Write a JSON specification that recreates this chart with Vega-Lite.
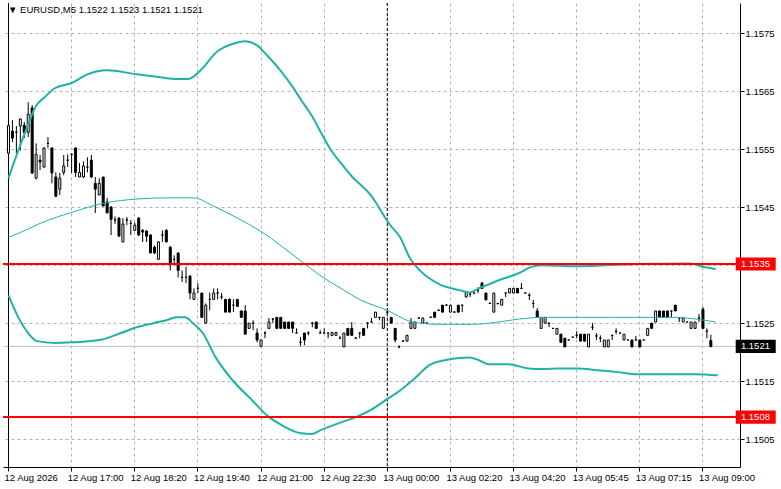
{
  "$schema": "https://vega.github.io/schema/vega-lite/v6.json",
  "width": 737,
  "height": 464,
  "autosize": {"type": "none"},
  "padding": {"left": 3, "top": 3, "right": 41, "bottom": 22},
  "background": "white",
  "config": {"view": {"stroke": null}, "font": "Liberation Sans"},
  "title": {"text": "▼ EURUSD,M5   1.1522 1.1523 1.1521 1.1521", "anchor": "start", "frame": "group", "orient": "top", "offset": -12, "baseline": "top", "dx": 5, "font": "Liberation Sans", "fontSize": 9.5, "fontWeight": "normal", "color": "black"},
  "datasets": {
    "candles": [
      {"i":0,"o":1.15543,"h":1.15603,"l":1.15519,"c":1.15591},
      {"i":1,"o":1.15581,"h":1.15600,"l":1.15562,"c":1.15569},
      {"i":2,"o":1.15579,"h":1.15590,"l":1.15543,"c":1.15579},
      {"i":3,"o":1.15590,"h":1.15603,"l":1.15548,"c":1.15602},
      {"i":4,"o":1.15591,"h":1.15597,"l":1.15569,"c":1.15579},
      {"i":5,"o":1.15579,"h":1.15631,"l":1.15571,"c":1.15610},
      {"i":6,"o":1.15621,"h":1.15626,"l":1.15507,"c":1.15509},
      {"i":7,"o":1.15500,"h":1.15560,"l":1.15498,"c":1.15541},
      {"i":8,"o":1.15531,"h":1.15540,"l":1.15514,"c":1.15528},
      {"i":9,"o":1.15519,"h":1.15553,"l":1.15519,"c":1.15552},
      {"i":10,"o":1.15560,"h":1.15571,"l":1.15552,"c":1.15560},
      {"i":11,"o":1.15552,"h":1.15553,"l":1.15491,"c":1.15509},
      {"i":12,"o":1.15502,"h":1.15510,"l":1.15467,"c":1.15469},
      {"i":13,"o":1.15481,"h":1.15509,"l":1.15471,"c":1.15500},
      {"i":14,"o":1.15510,"h":1.15540,"l":1.15505,"c":1.15521},
      {"i":15,"o":1.15531,"h":1.15541,"l":1.15519,"c":1.15531},
      {"i":16,"o":1.15541,"h":1.15543,"l":1.15509,"c":1.15541},
      {"i":17,"o":1.15552,"h":1.15553,"l":1.15502,"c":1.15510},
      {"i":18,"o":1.15502,"h":1.15526,"l":1.15502,"c":1.15510},
      {"i":19,"o":1.15502,"h":1.15529,"l":1.15500,"c":1.15521},
      {"i":20,"o":1.15519,"h":1.15536,"l":1.15510,"c":1.15519},
      {"i":21,"o":1.15531,"h":1.15540,"l":1.15500,"c":1.15502},
      {"i":22,"o":1.15491,"h":1.15502,"l":1.15440,"c":1.15481},
      {"i":23,"o":1.15471,"h":1.15500,"l":1.15471,"c":1.15491},
      {"i":24,"o":1.15502,"h":1.15502,"l":1.15452,"c":1.15452},
      {"i":25,"o":1.15459,"h":1.15466,"l":1.15440,"c":1.15440},
      {"i":26,"o":1.15450,"h":1.15452,"l":1.15402,"c":1.15429},
      {"i":27,"o":1.15428,"h":1.15434,"l":1.15421,"c":1.15428},
      {"i":28,"o":1.15431,"h":1.15433,"l":1.15400,"c":1.15400},
      {"i":29,"o":1.15390,"h":1.15431,"l":1.15390,"c":1.15421},
      {"i":30,"o":1.15428,"h":1.15433,"l":1.15419,"c":1.15428},
      {"i":31,"o":1.15422,"h":1.15428,"l":1.15402,"c":1.15422},
      {"i":32,"o":1.15410,"h":1.15424,"l":1.15410,"c":1.15419},
      {"i":33,"o":1.15431,"h":1.15433,"l":1.15400,"c":1.15402},
      {"i":34,"o":1.15410,"h":1.15412,"l":1.15390,"c":1.15407},
      {"i":35,"o":1.15409,"h":1.15410,"l":1.15390,"c":1.15400},
      {"i":36,"o":1.15402,"h":1.15403,"l":1.15371,"c":1.15371},
      {"i":37,"o":1.15381,"h":1.15384,"l":1.15369,"c":1.15371},
      {"i":38,"o":1.15360,"h":1.15391,"l":1.15360,"c":1.15390},
      {"i":39,"o":1.15402,"h":1.15410,"l":1.15390,"c":1.15402},
      {"i":40,"o":1.15410,"h":1.15412,"l":1.15390,"c":1.15390},
      {"i":41,"o":1.15381,"h":1.15383,"l":1.15341,"c":1.15353},
      {"i":42,"o":1.15360,"h":1.15367,"l":1.15350,"c":1.15360},
      {"i":43,"o":1.15371,"h":1.15372,"l":1.15329,"c":1.15341},
      {"i":44,"o":1.15329,"h":1.15341,"l":1.15321,"c":1.15329},
      {"i":45,"o":1.15329,"h":1.15347,"l":1.15319,"c":1.15329},
      {"i":46,"o":1.15331,"h":1.15333,"l":1.15291,"c":1.15302},
      {"i":47,"o":1.15291,"h":1.15310,"l":1.15291,"c":1.15302},
      {"i":48,"o":1.15310,"h":1.15319,"l":1.15302,"c":1.15310},
      {"i":49,"o":1.15302,"h":1.15302,"l":1.15260,"c":1.15260},
      {"i":50,"o":1.15250,"h":1.15284,"l":1.15250,"c":1.15281},
      {"i":51,"o":1.15291,"h":1.15303,"l":1.15272,"c":1.15291},
      {"i":52,"o":1.15291,"h":1.15310,"l":1.15291,"c":1.15302},
      {"i":53,"o":1.15302,"h":1.15310,"l":1.15291,"c":1.15302},
      {"i":54,"o":1.15295,"h":1.15302,"l":1.15291,"c":1.15295},
      {"i":55,"o":1.15291,"h":1.15291,"l":1.15269,"c":1.15269},
      {"i":56,"o":1.15291,"h":1.15293,"l":1.15269,"c":1.15269},
      {"i":57,"o":1.15281,"h":1.15291,"l":1.15269,"c":1.15281},
      {"i":58,"o":1.15291,"h":1.15291,"l":1.15279,"c":1.15279},
      {"i":59,"o":1.15271,"h":1.15272,"l":1.15260,"c":1.15260},
      {"i":60,"o":1.15271,"h":1.15281,"l":1.15231,"c":1.15231},
      {"i":61,"o":1.15241,"h":1.15250,"l":1.15241,"c":1.15250},
      {"i":62,"o":1.15250,"h":1.15255,"l":1.15238,"c":1.15250},
      {"i":63,"o":1.15233,"h":1.15241,"l":1.15217,"c":1.15221},
      {"i":64,"o":1.15210,"h":1.15221,"l":1.15210,"c":1.15221},
      {"i":65,"o":1.15233,"h":1.15236,"l":1.15224,"c":1.15233},
      {"i":66,"o":1.15241,"h":1.15259,"l":1.15241,"c":1.15252},
      {"i":67,"o":1.15257,"h":1.15259,"l":1.15250,"c":1.15257},
      {"i":68,"o":1.15260,"h":1.15260,"l":1.15241,"c":1.15241},
      {"i":69,"o":1.15260,"h":1.15260,"l":1.15241,"c":1.15241},
      {"i":70,"o":1.15252,"h":1.15252,"l":1.15241,"c":1.15241},
      {"i":71,"o":1.15252,"h":1.15252,"l":1.15241,"c":1.15241},
      {"i":72,"o":1.15252,"h":1.15252,"l":1.15233,"c":1.15241},
      {"i":73,"o":1.15233,"h":1.15241,"l":1.15233,"c":1.15233},
      {"i":74,"o":1.15217,"h":1.15226,"l":1.15209,"c":1.15217},
      {"i":75,"o":1.15233,"h":1.15233,"l":1.15212,"c":1.15221},
      {"i":76,"o":1.15233,"h":1.15236,"l":1.15229,"c":1.15233},
      {"i":77,"o":1.15250,"h":1.15252,"l":1.15243,"c":1.15250},
      {"i":78,"o":1.15252,"h":1.15252,"l":1.15241,"c":1.15241},
      {"i":79,"o":1.15233,"h":1.15238,"l":1.15233,"c":1.15233},
      {"i":80,"o":1.15233,"h":1.15241,"l":1.15233,"c":1.15233},
      {"i":81,"o":1.15233,"h":1.15233,"l":1.15224,"c":1.15233},
      {"i":82,"o":1.15229,"h":1.15234,"l":1.15229,"c":1.15234},
      {"i":83,"o":1.15229,"h":1.15234,"l":1.15229,"c":1.15234},
      {"i":84,"o":1.15224,"h":1.15228,"l":1.15224,"c":1.15224},
      {"i":85,"o":1.15209,"h":1.15233,"l":1.15209,"c":1.15233},
      {"i":86,"o":1.15241,"h":1.15241,"l":1.15229,"c":1.15229},
      {"i":87,"o":1.15241,"h":1.15252,"l":1.15229,"c":1.15229},
      {"i":88,"o":1.15224,"h":1.15226,"l":1.15224,"c":1.15224},
      {"i":89,"o":1.15233,"h":1.15233,"l":1.15224,"c":1.15233},
      {"i":90,"o":1.15241,"h":1.15241,"l":1.15229,"c":1.15229},
      {"i":91,"o":1.15250,"h":1.15252,"l":1.15241,"c":1.15250},
      {"i":92,"o":1.15252,"h":1.15259,"l":1.15252,"c":1.15252},
      {"i":93,"o":1.15260,"h":1.15269,"l":1.15260,"c":1.15269},
      {"i":94,"o":1.15260,"h":1.15260,"l":1.15255,"c":1.15260},
      {"i":95,"o":1.15241,"h":1.15260,"l":1.15241,"c":1.15260},
      {"i":96,"o":1.15269,"h":1.15272,"l":1.15267,"c":1.15269},
      {"i":97,"o":1.15260,"h":1.15260,"l":1.15250,"c":1.15250},
      {"i":98,"o":1.15241,"h":1.15241,"l":1.15217,"c":1.15221},
      {"i":99,"o":1.15209,"h":1.15212,"l":1.15207,"c":1.15209},
      {"i":100,"o":1.15219,"h":1.15221,"l":1.15219,"c":1.15219},
      {"i":101,"o":1.15219,"h":1.15229,"l":1.15219,"c":1.15229},
      {"i":102,"o":1.15241,"h":1.15259,"l":1.15241,"c":1.15252},
      {"i":103,"o":1.15241,"h":1.15252,"l":1.15241,"c":1.15252},
      {"i":104,"o":1.15259,"h":1.15260,"l":1.15257,"c":1.15259},
      {"i":105,"o":1.15250,"h":1.15259,"l":1.15250,"c":1.15259},
      {"i":106,"o":1.15250,"h":1.15252,"l":1.15250,"c":1.15250},
      {"i":107,"o":1.15260,"h":1.15262,"l":1.15260,"c":1.15260},
      {"i":108,"o":1.15269,"h":1.15269,"l":1.15260,"c":1.15260},
      {"i":109,"o":1.15272,"h":1.15274,"l":1.15272,"c":1.15272},
      {"i":110,"o":1.15281,"h":1.15281,"l":1.15269,"c":1.15269},
      {"i":111,"o":1.15281,"h":1.15283,"l":1.15281,"c":1.15281},
      {"i":112,"o":1.15269,"h":1.15281,"l":1.15269,"c":1.15281},
      {"i":113,"o":1.15269,"h":1.15271,"l":1.15269,"c":1.15269},
      {"i":114,"o":1.15281,"h":1.15281,"l":1.15269,"c":1.15269},
      {"i":115,"o":1.15281,"h":1.15281,"l":1.15269,"c":1.15281},
      {"i":116,"o":1.15295,"h":1.15303,"l":1.15295,"c":1.15303},
      {"i":117,"o":1.15300,"h":1.15303,"l":1.15295,"c":1.15300},
      {"i":118,"o":1.15302,"h":1.15302,"l":1.15300,"c":1.15302},
      {"i":119,"o":1.15307,"h":1.15312,"l":1.15302,"c":1.15307},
      {"i":120,"o":1.15319,"h":1.15321,"l":1.15310,"c":1.15310},
      {"i":121,"o":1.15302,"h":1.15302,"l":1.15290,"c":1.15290},
      {"i":122,"o":1.15284,"h":1.15286,"l":1.15284,"c":1.15284},
      {"i":123,"o":1.15269,"h":1.15302,"l":1.15269,"c":1.15302},
      {"i":124,"o":1.15284,"h":1.15284,"l":1.15282,"c":1.15284},
      {"i":125,"o":1.15281,"h":1.15291,"l":1.15281,"c":1.15291},
      {"i":126,"o":1.15302,"h":1.15302,"l":1.15295,"c":1.15302},
      {"i":127,"o":1.15302,"h":1.15310,"l":1.15302,"c":1.15310},
      {"i":128,"o":1.15302,"h":1.15310,"l":1.15302,"c":1.15310},
      {"i":129,"o":1.15310,"h":1.15310,"l":1.15302,"c":1.15302},
      {"i":130,"o":1.15310,"h":1.15319,"l":1.15310,"c":1.15310},
      {"i":131,"o":1.15302,"h":1.15303,"l":1.15302,"c":1.15302},
      {"i":132,"o":1.15298,"h":1.15302,"l":1.15290,"c":1.15298},
      {"i":133,"o":1.15284,"h":1.15290,"l":1.15276,"c":1.15284},
      {"i":134,"o":1.15271,"h":1.15276,"l":1.15260,"c":1.15260},
      {"i":135,"o":1.15241,"h":1.15260,"l":1.15241,"c":1.15260},
      {"i":136,"o":1.15250,"h":1.15260,"l":1.15250,"c":1.15260},
      {"i":137,"o":1.15250,"h":1.15250,"l":1.15243,"c":1.15250},
      {"i":138,"o":1.15241,"h":1.15241,"l":1.15241,"c":1.15241},
      {"i":139,"o":1.15231,"h":1.15241,"l":1.15231,"c":1.15241},
      {"i":140,"o":1.15231,"h":1.15231,"l":1.15217,"c":1.15217},
      {"i":141,"o":1.15224,"h":1.15224,"l":1.15209,"c":1.15209},
      {"i":142,"o":1.15221,"h":1.15221,"l":1.15221,"c":1.15221},
      {"i":143,"o":1.15226,"h":1.15226,"l":1.15226,"c":1.15226},
      {"i":144,"o":1.15229,"h":1.15236,"l":1.15224,"c":1.15229},
      {"i":145,"o":1.15231,"h":1.15231,"l":1.15219,"c":1.15219},
      {"i":146,"o":1.15231,"h":1.15231,"l":1.15219,"c":1.15219},
      {"i":147,"o":1.15209,"h":1.15231,"l":1.15209,"c":1.15231},
      {"i":148,"o":1.15243,"h":1.15250,"l":1.15238,"c":1.15243},
      {"i":149,"o":1.15228,"h":1.15233,"l":1.15221,"c":1.15228},
      {"i":150,"o":1.15224,"h":1.15229,"l":1.15217,"c":1.15224},
      {"i":151,"o":1.15209,"h":1.15221,"l":1.15209,"c":1.15221},
      {"i":152,"o":1.15209,"h":1.15221,"l":1.15209,"c":1.15221},
      {"i":153,"o":1.15229,"h":1.15229,"l":1.15221,"c":1.15229},
      {"i":154,"o":1.15236,"h":1.15241,"l":1.15231,"c":1.15236},
      {"i":155,"o":1.15233,"h":1.15233,"l":1.15233,"c":1.15233},
      {"i":156,"o":1.15221,"h":1.15231,"l":1.15221,"c":1.15231},
      {"i":157,"o":1.15221,"h":1.15221,"l":1.15221,"c":1.15221},
      {"i":158,"o":1.15221,"h":1.15221,"l":1.15209,"c":1.15209},
      {"i":159,"o":1.15221,"h":1.15228,"l":1.15221,"c":1.15221},
      {"i":160,"o":1.15221,"h":1.15221,"l":1.15209,"c":1.15209},
      {"i":161,"o":1.15221,"h":1.15221,"l":1.15221,"c":1.15221},
      {"i":162,"o":1.15229,"h":1.15241,"l":1.15229,"c":1.15241},
      {"i":163,"o":1.15250,"h":1.15250,"l":1.15241,"c":1.15241},
      {"i":164,"o":1.15252,"h":1.15271,"l":1.15252,"c":1.15271},
      {"i":165,"o":1.15271,"h":1.15271,"l":1.15260,"c":1.15260},
      {"i":166,"o":1.15271,"h":1.15271,"l":1.15260,"c":1.15260},
      {"i":167,"o":1.15271,"h":1.15271,"l":1.15260,"c":1.15260},
      {"i":168,"o":1.15271,"h":1.15271,"l":1.15260,"c":1.15271},
      {"i":169,"o":1.15281,"h":1.15281,"l":1.15271,"c":1.15271},
      {"i":170,"o":1.15259,"h":1.15259,"l":1.15252,"c":1.15259},
      {"i":171,"o":1.15252,"h":1.15259,"l":1.15252,"c":1.15259},
      {"i":172,"o":1.15252,"h":1.15252,"l":1.15252,"c":1.15252},
      {"i":173,"o":1.15241,"h":1.15252,"l":1.15241,"c":1.15252},
      {"i":174,"o":1.15241,"h":1.15252,"l":1.15241,"c":1.15252},
      {"i":175,"o":1.15259,"h":1.15266,"l":1.15252,"c":1.15259},
      {"i":176,"o":1.15274,"h":1.15278,"l":1.15241,"c":1.15241},
      {"i":177,"o":1.15236,"h":1.15241,"l":1.15224,"c":1.15236},
      {"i":178,"o":1.15220,"h":1.15230,"l":1.15208,"c":1.15210}
    ],
    "bands": [
      {"b":"upper","i":0,"v":1.15500},{"b":"upper","i":1.75,"v":1.15534},{"b":"upper","i":3.5,"v":1.15566},{"b":"upper","i":5.25,"v":1.15597},{"b":"upper","i":6.75,"v":1.15622},{"b":"upper","i":9.25,"v":1.15640},{"b":"upper","i":11.75,"v":1.15655},{"b":"upper","i":16,"v":1.15664},{"b":"upper","i":20,"v":1.15679},{"b":"upper","i":25,"v":1.15686},{"b":"upper","i":32.5,"v":1.15679},{"b":"upper","i":38.5,"v":1.15674},{"b":"upper","i":42.5,"v":1.15671},{"b":"upper","i":45.5,"v":1.15671},{"b":"upper","i":49.25,"v":1.15690},{"b":"upper","i":52.5,"v":1.15716},{"b":"upper","i":57.5,"v":1.15733},{"b":"upper","i":60,"v":1.15736},{"b":"upper","i":63,"v":1.15729},{"b":"upper","i":65.5,"v":1.15712},{"b":"upper","i":69.25,"v":1.15683},{"b":"upper","i":71.75,"v":1.15660},{"b":"upper","i":74.25,"v":1.15634},{"b":"upper","i":76.75,"v":1.15609},{"b":"upper","i":79.25,"v":1.15578},{"b":"upper","i":81.75,"v":1.15548},{"b":"upper","i":84.25,"v":1.15526},{"b":"upper","i":86.75,"v":1.15505},{"b":"upper","i":91.75,"v":1.15471},{"b":"upper","i":96.75,"v":1.15419},{"b":"upper","i":99.25,"v":1.15398},{"b":"upper","i":101.75,"v":1.15362},{"b":"upper","i":104.25,"v":1.15341},{"b":"upper","i":109.25,"v":1.15317},{"b":"upper","i":114.25,"v":1.15307},{"b":"upper","i":116.75,"v":1.15303},{"b":"upper","i":119.25,"v":1.15310},{"b":"upper","i":124.25,"v":1.15324},{"b":"upper","i":129.25,"v":1.15336},{"b":"upper","i":132.5,"v":1.15347},{"b":"upper","i":135,"v":1.15350},{"b":"upper","i":144.25,"v":1.15348},{"b":"upper","i":159.25,"v":1.15352},{"b":"upper","i":173,"v":1.15353},{"b":"upper","i":175.5,"v":1.15348},{"b":"upper","i":179.25,"v":1.15343},
      {"b":"middle","i":0,"v":1.15398},{"b":"middle","i":4.25,"v":1.15410},{"b":"middle","i":8,"v":1.15422},{"b":"middle","i":16,"v":1.15441},{"b":"middle","i":24.25,"v":1.15457},{"b":"middle","i":32.5,"v":1.15464},{"b":"middle","i":40,"v":1.15466},{"b":"middle","i":46.75,"v":1.15466},{"b":"middle","i":52.5,"v":1.15450},{"b":"middle","i":57.5,"v":1.15433},{"b":"middle","i":64.25,"v":1.15407},{"b":"middle","i":73.75,"v":1.15359},{"b":"middle","i":79.25,"v":1.15331},{"b":"middle","i":84.25,"v":1.15310},{"b":"middle","i":89.25,"v":1.15290},{"b":"middle","i":96,"v":1.15272},{"b":"middle","i":102.5,"v":1.15252},{"b":"middle","i":109.25,"v":1.15248},{"b":"middle","i":117.5,"v":1.15248},{"b":"middle","i":124.25,"v":1.15252},{"b":"middle","i":129.25,"v":1.15257},{"b":"middle","i":136,"v":1.15260},{"b":"middle","i":152.5,"v":1.15260},{"b":"middle","i":169.25,"v":1.15260},{"b":"middle","i":174.25,"v":1.15257},{"b":"middle","i":179.25,"v":1.15252},
      {"b":"lower","i":0,"v":1.15298},{"b":"lower","i":2.5,"v":1.15260},{"b":"lower","i":5,"v":1.15233},{"b":"lower","i":7.25,"v":1.15219},{"b":"lower","i":11.75,"v":1.15216},{"b":"lower","i":16,"v":1.15217},{"b":"lower","i":23.75,"v":1.15222},{"b":"lower","i":28.5,"v":1.15233},{"b":"lower","i":32.5,"v":1.15243},{"b":"lower","i":36.75,"v":1.15250},{"b":"lower","i":40,"v":1.15255},{"b":"lower","i":42.5,"v":1.15260},{"b":"lower","i":44.75,"v":1.15260},{"b":"lower","i":46.75,"v":1.15250},{"b":"lower","i":49.25,"v":1.15233},{"b":"lower","i":52.5,"v":1.15191},{"b":"lower","i":56.75,"v":1.15152},{"b":"lower","i":61.75,"v":1.15117},{"b":"lower","i":65.5,"v":1.15091},{"b":"lower","i":69.25,"v":1.15074},{"b":"lower","i":74.25,"v":1.15060},{"b":"lower","i":76.75,"v":1.15059},{"b":"lower","i":79.25,"v":1.15066},{"b":"lower","i":84.25,"v":1.15079},{"b":"lower","i":88,"v":1.15088},{"b":"lower","i":91.75,"v":1.15100},{"b":"lower","i":95.5,"v":1.15117},{"b":"lower","i":99.25,"v":1.15134},{"b":"lower","i":103,"v":1.15155},{"b":"lower","i":106.75,"v":1.15178},{"b":"lower","i":110.5,"v":1.15186},{"b":"lower","i":114.25,"v":1.15190},{"b":"lower","i":116.75,"v":1.15191},{"b":"lower","i":119.25,"v":1.15186},{"b":"lower","i":121.75,"v":1.15179},{"b":"lower","i":126.75,"v":1.15179},{"b":"lower","i":131.75,"v":1.15172},{"b":"lower","i":135.5,"v":1.15171},{"b":"lower","i":139.25,"v":1.15172},{"b":"lower","i":144.25,"v":1.15172},{"b":"lower","i":149.25,"v":1.15169},{"b":"lower","i":154.25,"v":1.15166},{"b":"lower","i":159.25,"v":1.15162},{"b":"lower","i":174.25,"v":1.15162},{"b":"lower","i":179.75,"v":1.15160}
    ],
    "levels": [
      {"price": 1.15352, "label": "1.1535", "kind": "level"},
      {"price": 1.15088, "label": "1.1508", "kind": "level"},
      {"price": 1.15210, "label": "1.1521", "kind": "bid"}
    ],
    "separators": [{"i": 96}]
  },
  "layer": [
    {
      "data": {"name": "candles"},
      "mark": {"type": "rule", "color": "black", "strokeWidth": 1, "clip": true},
      "encoding": {
        "x": {"field": "i", "type": "quantitative", "scale": {"domain": [-0.125, 184.125], "nice": false, "zero": false}, "axis": {"orient": "bottom", "title": null, "values": [-0.125, 7.875, 15.875, 23.875, 31.875, 39.875, 47.875, 55.875, 63.875, 71.875, 79.875, 87.875, 95.875, 103.875, 111.875, 119.875, 127.875, 135.875, 143.875, 151.875, 159.875, 167.875, 175.875, 183.875], "labelExpr": "round(datum.value + 0.125) % 16 === 0 ? ['12 Aug 2026','12 Aug 17:00','12 Aug 18:20','12 Aug 19:40','12 Aug 21:00','12 Aug 22:30','13 Aug 00:00','13 Aug 02:20','13 Aug 04:20','13 Aug 05:45','13 Aug 07:15','13 Aug 09:00'][round(datum.value + 0.125) / 16] : ''", "labelAlign": "left", "labelBaseline": "top", "labelOffset": -4, "labelPadding": 1, "labelFont": "Liberation Sans", "labelFontSize": 9.5, "labelColor": "black", "labelFlush": false, "labelOverlap": false, "tickSize": 4, "tickColor": "black", "tickOpacity": {"condition": {"test": "round(datum.value + 0.125) % 16 === 0", "value": 1}, "value": 0}, "domainColor": "black", "grid": true, "gridColor": "#b4b4b4", "gridDash": [3, 3], "zindex": 0}},
        "y": {"field": "l", "type": "quantitative", "scale": {"domain": [1.15002, 1.15802], "nice": false, "zero": false}, "axis": {"orient": "right", "title": null, "values": [1.1505, 1.1515, 1.1525, 1.1535, 1.1545, 1.1555, 1.1565, 1.1575], "labelExpr": "abs(datum.value - 1.1535) < 0.00001 ? '' : format(datum.value, '.4f')", "labelAlign": "left", "labelBaseline": "middle", "labelPadding": 1, "labelFont": "Liberation Sans", "labelFontSize": 9.5, "labelColor": "black", "labelFlush": false, "labelOverlap": false, "tickSize": 4, "tickColor": "black", "domainColor": "black", "grid": true, "gridColor": "#b4b4b4", "gridDash": [3, 3], "zindex": 0}},
        "y2": {"field": "h"}
      }
    },
    {
      "data": {"name": "levels"},
      "transform": [{"filter": "datum.kind === 'bid'"}],
      "mark": {"type": "rule", "color": "#c0c0c0", "strokeWidth": 1},
      "encoding": {
        "y": {"field": "price", "type": "quantitative"}
      }
    },
    {
      "data": {"name": "separators"},
      "mark": {"type": "rule", "color": "black", "strokeWidth": 1, "strokeDash": [3, 2]},
      "encoding": {
        "x": {"field": "i", "type": "quantitative"}
      }
    },
    {
      "data": {"name": "separators"},
      "mark": {"type": "rule", "color": "black", "strokeWidth": 1},
      "encoding": {
        "x": {"datum": 0, "type": "quantitative"}
      }
    },
    {
      "data": {"name": "candles"},
      "mark": {"type": "bar", "size": 2, "stroke": "black", "strokeWidth": 1, "clip": true},
      "encoding": {
        "x": {"field": "i", "type": "quantitative"},
        "y": {"field": "o", "type": "quantitative"},
        "y2": {"field": "c"},
        "fill": {"condition": {"test": "datum.c >= datum.o", "value": "white"}, "value": "black"}
      }
    },
    {
      "data": {"name": "bands"},
      "transform": [{"filter": "datum.b !== 'middle'"}],
      "mark": {"type": "line", "color": "#20b2aa", "strokeWidth": 2, "interpolate": "monotone", "clip": true},
      "encoding": {
        "x": {"field": "i", "type": "quantitative"},
        "y": {"field": "v", "type": "quantitative"},
        "detail": {"field": "b"}
      }
    },
    {
      "data": {"name": "bands"},
      "transform": [{"filter": "datum.b === 'middle'"}],
      "mark": {"type": "line", "color": "#20b2aa", "strokeWidth": 1, "interpolate": "monotone", "clip": true},
      "encoding": {
        "x": {"field": "i", "type": "quantitative"},
        "y": {"field": "v", "type": "quantitative"}
      }
    },
    {
      "data": {"name": "levels"},
      "transform": [{"filter": "datum.kind === 'level'"}],
      "mark": {"type": "rule", "color": "#ff0000", "strokeWidth": 2},
      "encoding": {
        "y": {"field": "price", "type": "quantitative"}
      }
    },
    {
      "data": {"name": "levels"},
      "mark": {"type": "point", "shape": "M-1,-0.33L1,-0.33L1,0.33L-1,0.33Z", "size": 1600, "filled": true, "opacity": 1, "strokeWidth": 0},
      "encoding": {
        "x": {"datum": 189.375, "type": "quantitative"},
        "y": {"field": "price", "type": "quantitative"},
        "color": {"field": "kind", "type": "nominal", "scale": {"domain": ["level", "bid"], "range": ["#ff0000", "#000000"]}, "legend": null}
      }
    },
    {
      "data": {"name": "levels"},
      "mark": {"type": "text", "align": "left", "baseline": "middle", "color": "white", "font": "Liberation Sans", "fontSize": 9.5},
      "encoding": {
        "x": {"datum": 185.625, "type": "quantitative"},
        "y": {"field": "price", "type": "quantitative"},
        "text": {"field": "label"}
      }
    }
  ]
}
